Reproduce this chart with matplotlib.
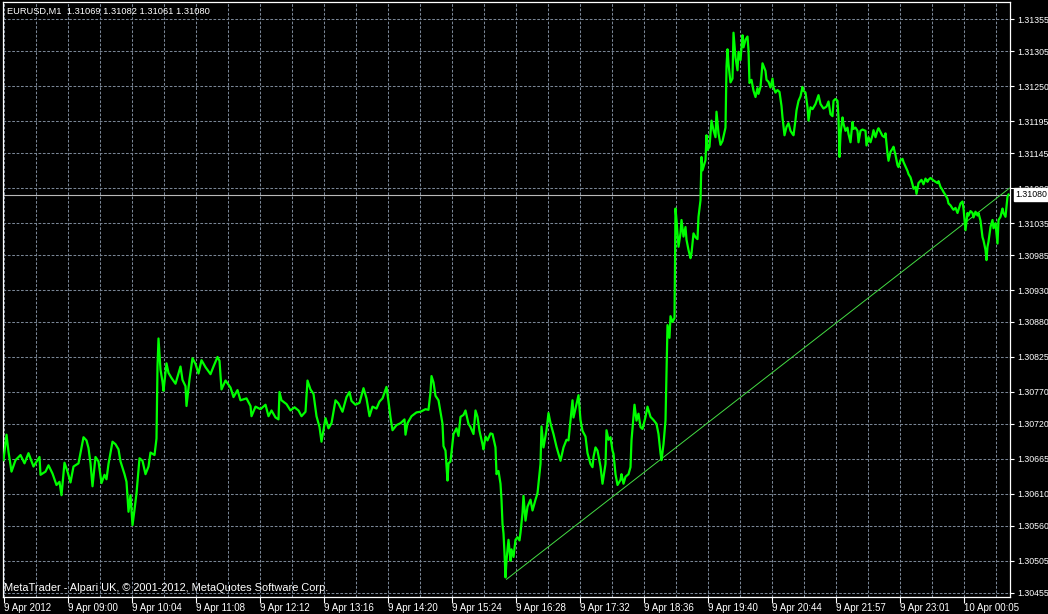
import matplotlib
matplotlib.use("Agg")
import matplotlib.pyplot as plt
import matplotlib.transforms as mtransforms

plt.rcParams["font.family"] = ["Liberation Sans", "DejaVu Sans"]

# EURUSD M1 close prices (bar index -> close)
bar_index = [
    0, 3, 5, 8, 12, 17, 21, 25, 30, 36,
    37, 42, 45, 49, 53, 56, 58, 61, 64, 67,
    70, 75, 80, 83, 85, 87, 89, 92, 95, 98,
    101, 103, 105, 109, 112, 115, 117, 121, 123, 125,
    127, 129, 131, 133, 136, 139, 142, 145, 147, 151,
    153, 154, 155, 157, 159, 160, 163, 165, 168, 172,
    177, 179, 182, 183, 186, 189, 192, 195, 198, 202,
    207, 210, 214, 216, 218, 222, 227, 230, 234, 237,
    243, 247, 248, 252, 257, 262, 265, 268, 272, 275,
    276, 278, 283, 287, 291, 295, 298, 302, 304, 307,
    310, 313, 316, 318, 320, 322, 325, 328, 332, 335,
    339, 343, 346, 348, 352, 356, 360, 363, 366, 369,
    373, 376, 379, 383, 385, 387, 389, 393, 397, 401,
    402, 404, 408, 413, 417, 422, 425, 427, 428, 430,
    432, 435, 437, 439, 440, 442, 444, 445, 447, 450,
    453, 455, 457, 460, 462, 465, 467, 470, 472, 474,
    476, 479, 480, 482, 484, 487, 489, 492, 493, 495,
    497, 498, 499, 500, 501, 502, 503, 505, 507, 508,
    510, 512, 514, 516, 517, 519, 520, 522, 524, 527,
    529, 532, 534, 535, 537, 538, 540, 543, 545, 547,
    550, 553, 555, 557, 560, 563, 565, 567, 569, 570,
    573, 575, 577, 579, 582, 584, 587, 589, 590, 592,
    594, 597, 599, 602, 603, 605, 607, 609, 610, 612,
    614, 617, 618, 620, 622, 625, 627, 628, 630, 631,
    633, 635, 637, 639, 642, 644, 647, 650, 653, 655,
    657, 658, 660, 662, 663, 664, 666, 667, 669, 671,
    672, 673, 675, 677, 678, 680, 682, 683, 685, 687,
    688, 690, 692, 694, 695, 697, 698, 699, 701, 702,
    703, 704, 706, 708, 710, 712, 713, 715, 717, 719,
    720, 722, 723, 724, 725, 727, 729, 730, 732, 734,
    735, 737, 739, 740, 742, 744, 745, 746, 748, 750,
    752, 754, 755, 757, 759, 762, 763, 765, 767, 769,
    770, 772, 774, 776, 778, 779, 781, 783, 785, 787,
    789, 790, 792, 793, 795, 797, 799, 800, 802, 804,
    805, 807, 809, 812, 815, 817, 820, 823, 825, 827,
    829, 830, 832, 834, 835, 836, 837, 839, 840, 842,
    844, 845, 847, 849, 850, 852, 854, 855, 857, 859,
    862, 863, 865, 867, 869, 870, 872, 874, 875, 877,
    879, 881, 882, 884, 885, 887, 889, 890, 892, 894,
    895, 897, 899, 900, 902, 904, 905, 907, 909, 910,
    912, 913, 915, 918, 920, 922, 924, 925, 927, 930,
    932, 934, 935, 937, 939, 940, 942, 944, 945, 947,
    949, 950, 952, 954, 955, 957, 959, 960, 962, 964,
    965, 967, 969, 970, 972, 974, 975, 977, 979, 980,
    982, 983, 984, 985, 987, 989, 990, 992, 994, 995,
    997, 999, 1000, 1002, 1003, 1004, 1005,
]
close_price = [
    1.30663, 1.30703, 1.30676, 1.30645, 1.30663, 1.30671, 1.30658, 1.30674, 1.30653, 1.30668,
    1.30640, 1.30645, 1.30655, 1.30642, 1.30624, 1.30629, 1.30608, 1.30659, 1.30645, 1.30628,
    1.30653, 1.30658, 1.30699, 1.30694, 1.30682, 1.30658, 1.30622, 1.30668, 1.30661, 1.30627,
    1.30640, 1.30633, 1.30657, 1.30692, 1.30688, 1.30680, 1.30661, 1.30641, 1.30629, 1.30582,
    1.30608, 1.30561, 1.30585, 1.30611, 1.30666, 1.30662, 1.30641, 1.30653, 1.30675, 1.30671,
    1.30697, 1.30810, 1.30854, 1.30805, 1.30786, 1.30772, 1.30815, 1.30800, 1.30792, 1.30783,
    1.30810, 1.30789, 1.30779, 1.30748, 1.30790, 1.30823, 1.30814, 1.30799, 1.30820, 1.30809,
    1.30798, 1.30810, 1.30825, 1.30819, 1.30774, 1.30788, 1.30777, 1.30762, 1.30773, 1.30757,
    1.30760, 1.30748, 1.30732, 1.30747, 1.30743, 1.30750, 1.30732, 1.30741, 1.30730, 1.30727,
    1.30770, 1.30757, 1.30751, 1.30741, 1.30746, 1.30741, 1.30732, 1.30739, 1.30788, 1.30774,
    1.30767, 1.30732, 1.30715, 1.30692, 1.30710, 1.30729, 1.30713, 1.30721, 1.30757, 1.30752,
    1.30739, 1.30762, 1.30770, 1.30756, 1.30750, 1.30753, 1.30776, 1.30760, 1.30732, 1.30747,
    1.30744, 1.30755, 1.30760, 1.30778, 1.30755, 1.30730, 1.30710, 1.30718, 1.30721, 1.30727,
    1.30703, 1.30721, 1.30732, 1.30738, 1.30739, 1.30743, 1.30742, 1.30770, 1.30795, 1.30785,
    1.30764, 1.30757, 1.30738, 1.30720, 1.30685, 1.30678, 1.30631, 1.30658, 1.30661, 1.30704,
    1.30713, 1.30701, 1.30731, 1.30734, 1.30741, 1.30720, 1.30715, 1.30704, 1.30741, 1.30731,
    1.30709, 1.30688, 1.30680, 1.30700, 1.30694, 1.30705, 1.30704, 1.30683, 1.30641, 1.30646,
    1.30626, 1.30601, 1.30563, 1.30548, 1.30517, 1.30479, 1.30506, 1.30538, 1.30505, 1.30523,
    1.30511, 1.30538, 1.30542, 1.30537, 1.30549, 1.30580, 1.30607, 1.30568, 1.30590, 1.30601,
    1.30584, 1.30601, 1.30611, 1.30626, 1.30657, 1.30716, 1.30683, 1.30710, 1.30737, 1.30721,
    1.30704, 1.30684, 1.30673, 1.30662, 1.30683, 1.30695, 1.30694, 1.30726, 1.30757, 1.30730,
    1.30751, 1.30765, 1.30726, 1.30709, 1.30700, 1.30674, 1.30657, 1.30652, 1.30668, 1.30683,
    1.30678, 1.30653, 1.30626, 1.30657, 1.30710, 1.30695, 1.30699, 1.30678, 1.30673, 1.30641,
    1.30624, 1.30632, 1.30641, 1.30626, 1.30637, 1.30641, 1.30652, 1.30694, 1.30730, 1.30750,
    1.30725, 1.30736, 1.30715, 1.30712, 1.30731, 1.30747, 1.30731, 1.30726, 1.30720, 1.30704,
    1.30674, 1.30663, 1.30688, 1.30725, 1.30799, 1.30875, 1.30855, 1.30889, 1.30880, 1.30886,
    1.31058, 1.31040, 1.30998, 1.31019, 1.31040, 1.31014, 1.31029, 1.31009, 1.30993, 1.30980,
    1.30988, 1.31019, 1.31013, 1.31010, 1.31045, 1.31071, 1.31139, 1.31118, 1.31129, 1.31134,
    1.31173, 1.31150, 1.31155, 1.31196, 1.31181, 1.31170, 1.31210, 1.31176, 1.31158, 1.31164,
    1.31171, 1.31185, 1.31281, 1.31308, 1.31285, 1.31256, 1.31262, 1.31334, 1.31295, 1.31275,
    1.31304, 1.31291, 1.31330, 1.31311, 1.31323, 1.31328, 1.31306, 1.31255, 1.31260, 1.31243,
    1.31233, 1.31247, 1.31238, 1.31249, 1.31286, 1.31274, 1.31260, 1.31257, 1.31248, 1.31262,
    1.31248, 1.31240, 1.31244, 1.31241, 1.31219, 1.31201, 1.31173, 1.31186, 1.31192, 1.31180,
    1.31175, 1.31173, 1.31197, 1.31212, 1.31227, 1.31234, 1.31249, 1.31243, 1.31240, 1.31217,
    1.31196, 1.31217, 1.31214, 1.31222, 1.31236, 1.31222, 1.31215, 1.31218, 1.31226, 1.31206,
    1.31203, 1.31227, 1.31230, 1.31227, 1.31201, 1.31139, 1.31175, 1.31201, 1.31191, 1.31180,
    1.31185, 1.31175, 1.31162, 1.31194, 1.31183, 1.31185, 1.31180, 1.31162, 1.31180, 1.31182,
    1.31180, 1.31157, 1.31170, 1.31162, 1.31173, 1.31181, 1.31170, 1.31181, 1.31184, 1.31178,
    1.31172, 1.31170, 1.31176, 1.31144, 1.31133, 1.31147, 1.31152, 1.31155, 1.31142, 1.31126,
    1.31123, 1.31134, 1.31136, 1.31131, 1.31124, 1.31117, 1.31112, 1.31107, 1.31096, 1.31089,
    1.31092, 1.31081, 1.31098, 1.31103, 1.31096, 1.31105, 1.31100, 1.31103, 1.31106, 1.31102,
    1.31100, 1.31098, 1.31101, 1.31092, 1.31087, 1.31084, 1.31079, 1.31073, 1.31066, 1.31063,
    1.31058, 1.31056, 1.31059, 1.31051, 1.31056, 1.31066, 1.31069, 1.31058, 1.31024, 1.31051,
    1.31047, 1.31054, 1.31051, 1.31044, 1.31053, 1.31047, 1.31051, 1.31039, 1.31013, 1.31008,
    1.30993, 1.30977, 1.30998, 1.31006, 1.31029, 1.31040, 1.31027, 1.31035, 1.31003, 1.31040,
    1.31045, 1.31058, 1.31051, 1.31045, 1.31061, 1.31077, 1.31080,
]

time_labels = ["9 Apr 2012", "9 Apr 09:00", "9 Apr 10:04", "9 Apr 11:08",
               "9 Apr 12:12", "9 Apr 13:16", "9 Apr 14:20", "9 Apr 15:24",
               "9 Apr 16:28", "9 Apr 17:32", "9 Apr 18:36", "9 Apr 19:40",
               "9 Apr 20:44", "9 Apr 21:57", "9 Apr 23:01", "10 Apr 00:05"]
time_label_bars = [0, 64, 128, 192, 256, 320, 384, 448,
                   512, 576, 640, 704, 768, 832, 896, 960]
price_labels = [1.30455, 1.30505, 1.30560, 1.30610, 1.30665, 1.30720,
                1.30770, 1.30825, 1.30880, 1.30930, 1.30985, 1.31035,
                1.31090, 1.31145, 1.31195, 1.31250, 1.31305, 1.31355]

trend_bars = [503, 1006]
trend_prices = [1.30476, 1.31090]
bid = 1.31080
header = "EURUSD,M1  1.31069 1.31082 1.31061 1.31080"
footer = "MetaTrader - Alpari UK, \u00a9 2001-2012, MetaQuotes Software Corp."

assert len(bar_index) == len(close_price)

fs = 7
fs_price = 6.3
grid_col = "#7a8696"

fig = plt.figure(figsize=(10.48, 6.14), dpi=100, facecolor="black")
ax = fig.add_axes([3 / 1048, 17 / 614, 1007 / 1048, 595 / 614])
ax.set_facecolor("black")

# grid: horizontal at price labels, vertical every 32 bars
for p in price_labels:
    ax.axhline(p, color=grid_col, lw=0.75, ls=(0, (2.6, 1.6)), zorder=1)
for b in range(0, 1000, 32):
    ax.axvline(b, color=grid_col, lw=0.75, ls=(0, (2.6, 1.6)), zorder=1)

ax.axhline(bid, color="#b8b8b8", lw=0.8, zorder=2)
ax.plot(trend_bars, trend_prices, color="#44dd44", lw=0.7, zorder=3)
ax.plot(bar_index, close_price, color="#00ff00", lw=1.6, zorder=4)

ax.set_xlim(-0.5, 1006.5)
ax.set_ylim(1.304482, 1.313822)

ax.set_xticks(time_label_bars)
ax.set_xticklabels(time_labels, ha="left")
ax.yaxis.tick_right()
ax.set_yticks(price_labels)
ax.set_yticklabels([f"{p:.5f}" for p in price_labels])
ax.tick_params(axis="x", colors="white", length=4, width=0.8, pad=0.5, labelsize=fs)
ax.tick_params(axis="y", colors="white", length=3, width=0.8, pad=2.5, labelsize=fs_price)
for s in ax.spines.values():
    s.set_color("white")
    s.set_linewidth(0.9)

# current bid label on the price scale
trans = mtransforms.blended_transform_factory(ax.transAxes, ax.transData)
ax.text(1.0055, bid, "1.31080", transform=trans, ha="left", va="center",
        color="black", fontsize=fs_price, clip_on=False, zorder=10,
        bbox=dict(boxstyle="square,pad=0.2", fc="white", ec="white"))

fig.text(7 / 1048, 1 - 11 / 614, header, color="white", fontsize=6.7, va="center")
fig.text(4 / 1048, 1 - 588 / 614, footer, color="white", fontsize=7.9, va="center")

fig.savefig("out.png", dpi=100, facecolor="black")
